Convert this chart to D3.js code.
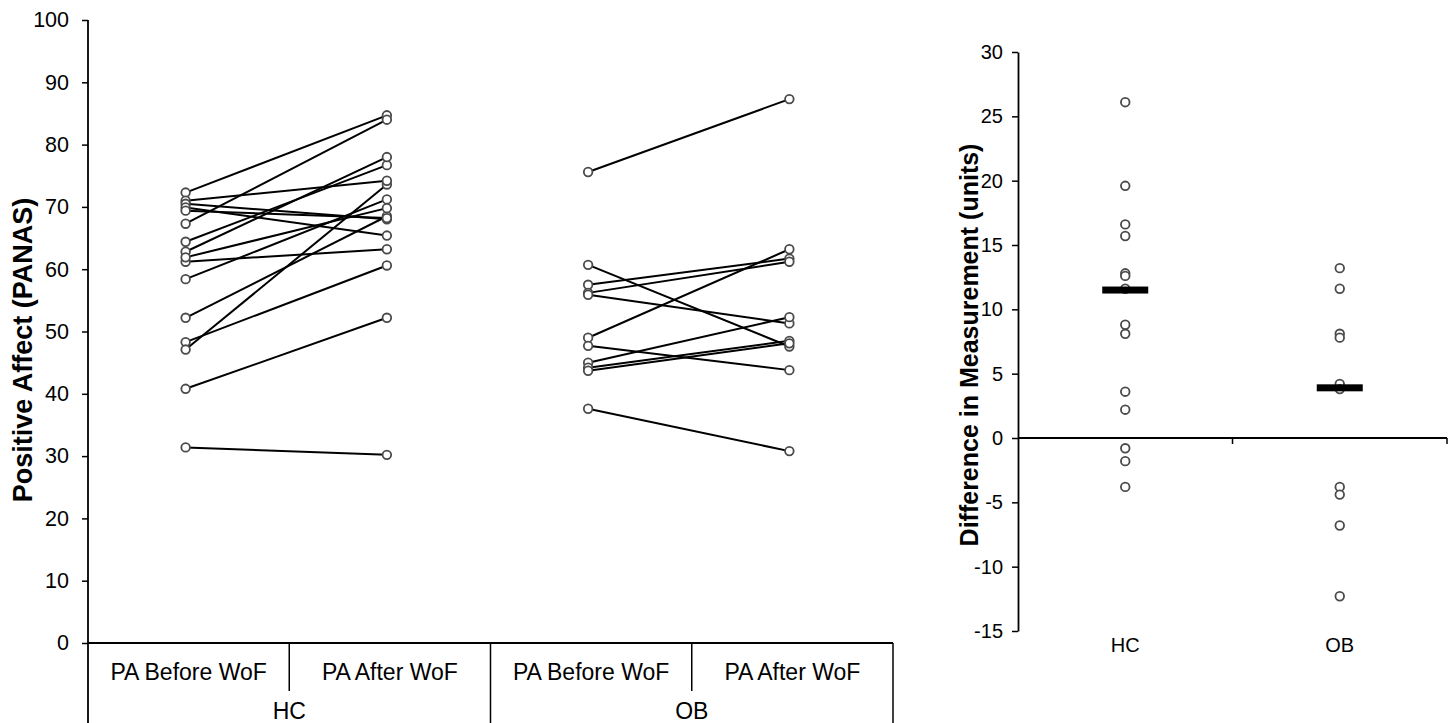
<!DOCTYPE html>
<html>
<head>
<meta charset="utf-8">
<script src="https://cdn.jsdelivr.net/npm/d3@7"></script>
<style>
  body { margin: 0; background: #fff; }
  text { font-family: "Liberation Sans", Arial, sans-serif; fill: #000; }
</style>
</head>
<body>
<svg id="chart" width="1455" height="723"></svg>
<script>
// groups and phases of the left panel
const groups = ["HC", "OB"];
const phases = ["PA Before WoF", "PA After WoF"];

// paired PANAS scores, index i = same participant
const hcBefore = [72.3, 67.3, 31.4, 40.8, 48.3, 47.1, 52.2, 61.2, 71.0, 64.4, 62.8, 58.4, 61.9, 70.5, 69.9, 69.4];
const hcAfter  = [84.7, 84.0, 30.2, 52.2, 60.6, 73.6, 68.5, 63.2, 74.2, 76.7, 78.0, 71.2, 69.8, 68.0, 65.4, 68.2];
const obBefore = [75.6, 60.7, 57.5, 56.2, 55.9, 49.0, 47.7, 45.0, 44.2, 43.7, 37.6];
const obAfter  = [87.3, 47.6, 61.7, 61.2, 51.3, 63.2, 43.8, 52.3, 48.5, 48.1, 30.8];

// right panel: differences and group means
const hcDiff = [26.1, 19.6, 16.6, 15.7, 12.8, 12.6, 11.6, 8.8, 8.1, 3.6, 2.2, -0.8, -1.8, -3.8];
const obDiff = [13.2, 11.6, 8.1, 7.8, 4.2, 3.8, -3.8, -4.4, -6.8, -12.3];
const diffMean = [11.5, 3.9];

const leftTicks = d3.range(0, 101, 10);
const rightTicks = d3.range(-15, 31, 5);

const svg = d3.select("#chart");

// ---------- left panel ----------
const left = { x0: 88, x1: 893, top: 20, base: 643, bottom: 723 };
const yL = d3.scaleLinear().domain([0, 100]).range([left.base, left.top]);
const combos = groups.flatMap(g => phases.map(p => g + "|" + p));
const xL = d3.scaleBand().domain(combos).range([left.x0, left.x1]);
const xGroup = d3.scaleBand().domain(groups).range([left.x0, left.x1]);
const cx = (g, p) => xL(g + "|" + p) + xL.bandwidth() / 2 - 3;

const gl = svg.append("g");

const yAxisL = d3.axisLeft(yL).tickValues(leftTicks).tickSize(6).tickSizeOuter(0).tickPadding(13);
gl.append("g").attr("transform", `translate(${left.x0},0)`).call(yAxisL)
  .call(g => g.select(".domain").remove())
  .call(g => g.selectAll("line").attr("stroke", "#000").attr("stroke-width", 1.5))
  .call(g => g.selectAll("text").style("font-size", "21.5px"));

// axis frame and category table
gl.append("line").attr("x1", left.x0).attr("x2", left.x0).attr("y1", left.top).attr("y2", left.bottom)
  .attr("stroke", "#000").attr("stroke-width", 1.8);
gl.append("line").attr("x1", left.x0).attr("x2", left.x1).attr("y1", left.base).attr("y2", left.base)
  .attr("stroke", "#000").attr("stroke-width", 1.8);
groups.forEach(g => {
  const gx = xGroup(g);
  gl.append("line").attr("x1", gx + xGroup.bandwidth()).attr("x2", gx + xGroup.bandwidth())
    .attr("y1", left.base).attr("y2", left.bottom).attr("stroke", "#000").attr("stroke-width", 1.5);
  gl.append("line").attr("x1", xL(g + "|" + phases[1])).attr("x2", xL(g + "|" + phases[1]))
    .attr("y1", left.base).attr("y2", left.base + 48).attr("stroke", "#000").attr("stroke-width", 1.5);
  phases.forEach(p => {
    gl.append("text").attr("x", xL(g + "|" + p) + xL.bandwidth() / 2).attr("y", left.base + 37)
      .attr("text-anchor", "middle").style("font-size", "23px").text(p);
  });
  gl.append("text").attr("x", xGroup(g) + xGroup.bandwidth() / 2).attr("y", left.base + 76)
    .attr("text-anchor", "middle").style("font-size", "23px").text(g);
});

gl.append("text")
  .attr("transform", `translate(32,350) rotate(-90)`)
  .attr("text-anchor", "middle").style("font-size", "27px").style("font-weight", "bold")
  .text("Positive Affect (PANAS)");

const pairs = [
  { g: "HC", before: hcBefore, after: hcAfter },
  { g: "OB", before: obBefore, after: obAfter }
];

pairs.forEach(s => {
  const data = s.before.map((b, i) => ({ b, a: s.after[i] }));
  gl.append("g").selectAll("line").data(data).enter().append("line")
    .attr("x1", cx(s.g, phases[0])).attr("x2", cx(s.g, phases[1]))
    .attr("y1", d => yL(d.b)).attr("y2", d => yL(d.a))
    .attr("stroke", "#000").attr("stroke-width", 2);
  const pts = data.flatMap(d => [{ p: phases[0], v: d.b }, { p: phases[1], v: d.a }]);
  gl.append("g").selectAll("circle").data(pts).enter().append("circle")
    .attr("cx", d => cx(s.g, d.p)).attr("cy", d => yL(d.v)).attr("r", 4.3)
    .attr("fill", "#fff").attr("stroke", "#4a4a4a").attr("stroke-width", 1.8);
});

// ---------- right panel ----------
const right = { x0: 1018, x1: 1447, top: 52, bottom: 631 };
const yR = d3.scaleLinear().domain([-15, 30]).range([right.bottom, right.top]);
const xR = d3.scaleBand().domain(groups).range([right.x0, right.x1]);

const gr = svg.append("g");
const yAxisR = d3.axisLeft(yR).tickValues(rightTicks).tickSize(6).tickSizeOuter(0).tickPadding(9)
  .tickFormat(d => String(d));
gr.append("g").attr("transform", `translate(${right.x0},0)`).call(yAxisR)
  .call(g => g.select(".domain").attr("stroke", "#000").attr("stroke-width", 1.8))
  .call(g => g.selectAll("line").attr("stroke", "#000").attr("stroke-width", 1.5))
  .call(g => g.selectAll("text").style("font-size", "20px"));

const y0 = yR(0);
gr.append("line").attr("x1", right.x0).attr("x2", right.x1).attr("y1", y0).attr("y2", y0)
  .attr("stroke", "#000").attr("stroke-width", 1.8);
groups.forEach(g => {
  const bx = xR(g) + xR.bandwidth();
  gr.append("line").attr("x1", bx).attr("x2", bx).attr("y1", y0).attr("y2", y0 + 6)
    .attr("stroke", "#000").attr("stroke-width", 1.5);
  gr.append("text").attr("x", xR(g) + xR.bandwidth() / 2).attr("y", right.bottom + 21)
    .attr("text-anchor", "middle").style("font-size", "20px").text(g);
});

gr.append("text")
  .attr("transform", `translate(978,345) rotate(-90)`)
  .attr("text-anchor", "middle").style("font-size", "25px").style("font-weight", "bold")
  .text("Difference in Measurement (units)");

const diffs = [{ g: "HC", v: hcDiff, m: diffMean[0] }, { g: "OB", v: obDiff, m: diffMean[1] }];
diffs.forEach(s => {
  const mx = xR(s.g) + xR.bandwidth() / 2;
  gr.append("g").selectAll("circle").data(s.v).enter().append("circle")
    .attr("cx", mx).attr("cy", d => yR(d)).attr("r", 4.3)
    .attr("fill", "#fff").attr("stroke", "#4a4a4a").attr("stroke-width", 1.8);
  gr.append("rect").attr("x", mx - 23).attr("y", yR(s.m) - 3.5).attr("width", 46).attr("height", 7)
    .attr("fill", "#000");
});
</script>
</body>
</html>
